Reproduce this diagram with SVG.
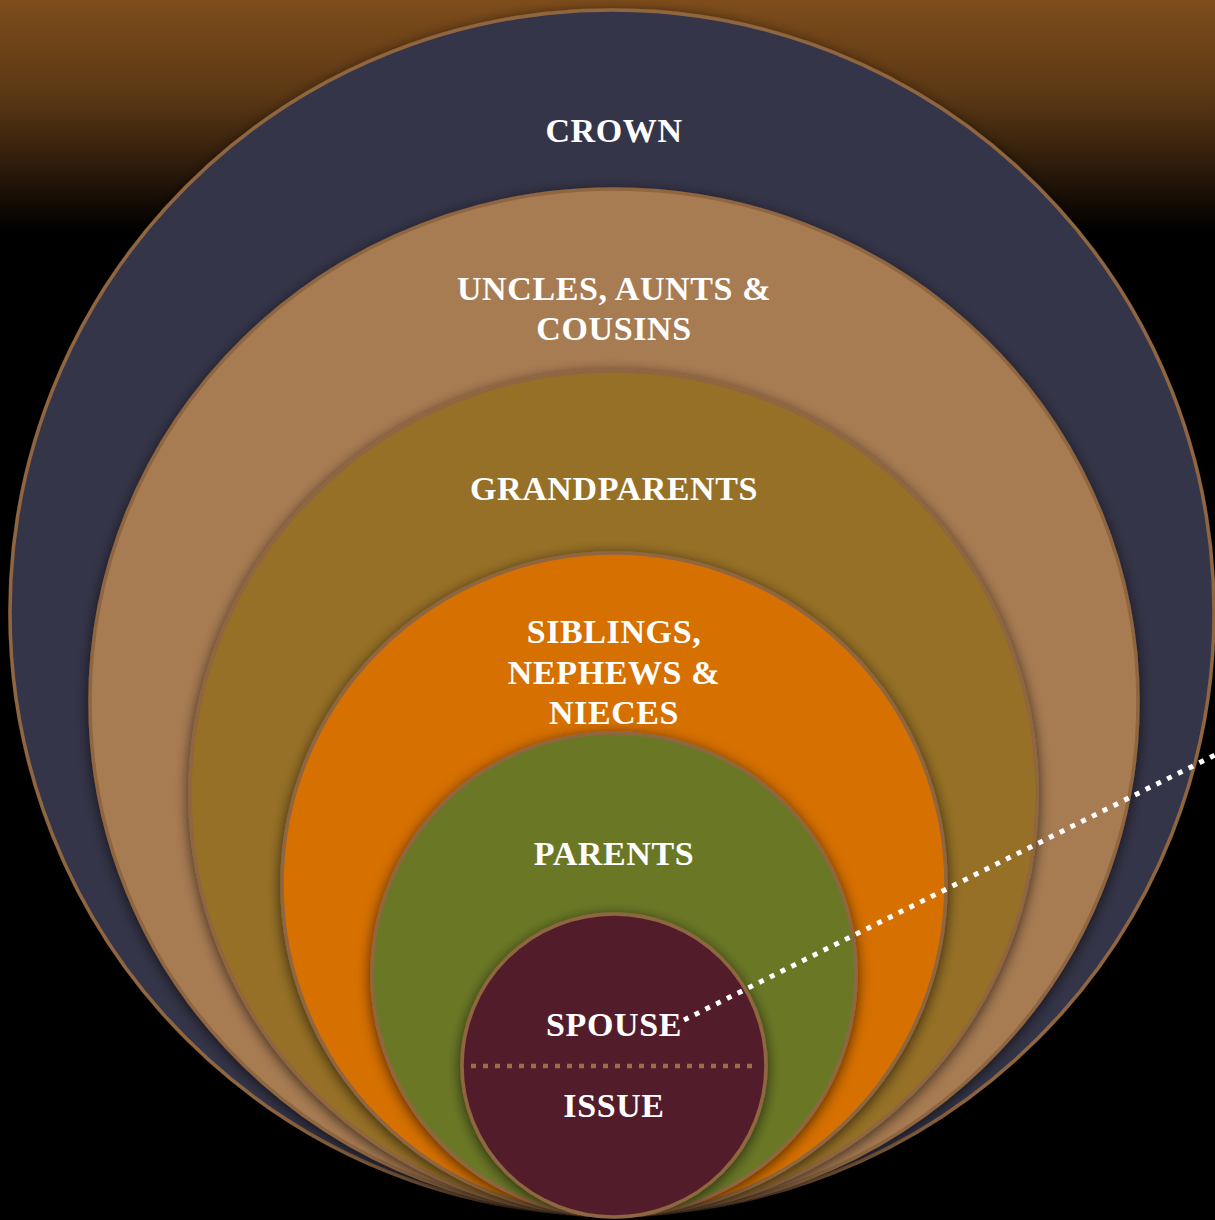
<svg xmlns="http://www.w3.org/2000/svg" width="1215" height="1220" viewBox="0 0 1215 1220">
<defs>
<linearGradient id="bg" x1="0" y1="0" x2="0" y2="1220" gradientUnits="userSpaceOnUse">
<stop offset="0" stop-color="#7e4d1b"/>
<stop offset="0.08" stop-color="#5a3714"/>
<stop offset="0.14" stop-color="#2a190a"/>
<stop offset="0.19" stop-color="#000000"/>
<stop offset="1" stop-color="#000000"/>
</linearGradient>
<filter id="sh" x="-10%" y="-10%" width="120%" height="120%">
<feDropShadow dx="0" dy="3" stdDeviation="7" flood-color="#000000" flood-opacity="0.65"/>
</filter>
<style>
.ring{stroke:#8f6640;stroke-width:3.5;filter:url(#sh)}
.lbl{font-family:"Liberation Serif","DejaVu Serif",serif;font-weight:bold;font-size:34px;letter-spacing:0.6px;fill:#ffffff;text-anchor:middle}
</style>
</defs>
<rect x="0" y="0" width="1215" height="1220" fill="url(#bg)"/>
<g id="crown">
<ellipse class="ring" cx="612" cy="612.5" rx="602" ry="602.5" fill="#343449"/>
<text class="lbl" x="614" y="142">CROWN</text>
</g>
<g id="uncles">
<ellipse class="ring" cx="614" cy="702" rx="524" ry="513" fill="#a87b52"/>
<text class="lbl" x="614" y="300">UNCLES, AUNTS &amp;</text>
<text class="lbl" x="614" y="340">COUSINS</text>
</g>
<g id="grandparents">
<ellipse class="ring" cx="613.5" cy="793.5" rx="423.5" ry="422.5" fill="#967026"/>
<text class="lbl" x="614" y="500">GRANDPARENTS</text>
</g>
<g id="siblings">
<ellipse class="ring" cx="614" cy="884.5" rx="332" ry="331.5" fill="#d67000"/>
<text class="lbl" x="614" y="643">SIBLINGS,</text>
<text class="lbl" x="614" y="684">NEPHEWS &amp;</text>
<text class="lbl" x="614" y="724">NIECES</text>
</g>
<g id="parents">
<ellipse class="ring" cx="614" cy="974.5" rx="242" ry="241.5" fill="#6b7828"/>
<text class="lbl" x="614" y="865">PARENTS</text>
</g>
<g id="spouse-issue">
<ellipse class="ring" cx="614" cy="1065.5" rx="152" ry="151.5" fill="#521f2a"/>
<text class="lbl" x="614" y="1036">SPOUSE</text>
<text class="lbl" x="614" y="1117">ISSUE</text>
</g>
<g id="connectors">
<line x1="471" y1="1066" x2="756" y2="1066" stroke="#9a6e48" stroke-width="4.5" stroke-dasharray="5 7"/>
<line x1="684" y1="1020" x2="1215" y2="755" stroke="#ffffff" stroke-width="5" stroke-dasharray="5 7"/>
</g>
</svg>
